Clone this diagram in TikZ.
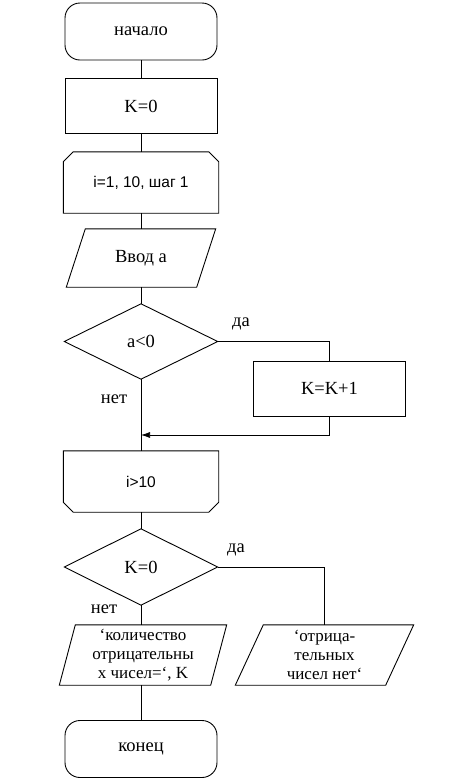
\documentclass[tikz,border=0pt]{standalone}
\usepackage{fontspec}
\setmainfont{Liberation Serif}
\newfontfamily\arialf{Liberation Sans}
\usetikzlibrary{arrows.meta,calc}
\begin{document}
\begin{tikzpicture}[x=1pt,y=-1pt,
  lw/.style={line width=0.9pt},
  conn/.style={line width=0.7pt},
  tm/.style={font=\fontsize{18.5}{20}\selectfont},
  tms/.style={font=\fontsize{17}{19}\selectfont},
  ar/.style={font=\arialf\fontsize{15.5}{18}\selectfont},
  term/.style={draw,lw,rounded corners=15pt,minimum width=152pt,minimum height=57pt,inner sep=0pt,tm},
  proc/.style={draw,lw,minimum width=152pt,minimum height=55pt,inner sep=0pt,tm},
  ghost/.style={inner sep=0pt,align=center},
  lab/.style={tm,inner sep=1pt}
]
\useasboundingbox (0,0) rectangle (451,780);

\node[term] (start) at (141,31.5) {начало};
\node[proc] (k0) at (141,106) {K=0};

\node[ghost,ar,minimum width=155pt,minimum height=61pt] (loop) at (141,182.5) {i=1, 10, шаг 1};
\draw[lw] ([xshift=10pt]loop.north west) -- ([xshift=-10pt]loop.north east) -- ([yshift=-10pt]loop.north east) -- (loop.south east) -- (loop.south west) -- ([yshift=-10pt]loop.north west) -- cycle;

\node[ghost,tm,minimum width=130pt,minimum height=58pt] (inp) at (141,258) {Ввод а};
\draw[lw] ([xshift=9.5pt]inp.north west) -- ([xshift=9.5pt]inp.north east) -- ([xshift=-9.5pt]inp.south east) -- ([xshift=-9.5pt]inp.south west) -- cycle;

\node[ghost,tm,minimum width=153pt,minimum height=75pt] (d1) at (141,341.5) {a<0};
\draw[lw] (d1.north) -- (d1.east) -- (d1.south) -- (d1.west) -- cycle;

\node[proc] (inc) at (329.5,388.5) {K=K+1};
\coordinate (m) at (141,435);

\node[ghost,ar,minimum width=155pt,minimum height=61pt] (loopend) at (141,481.5) {i>10};
\draw[lw] (loopend.north west) -- (loopend.north east) -- ([yshift=10pt]loopend.south east) -- ([xshift=-10pt]loopend.south east) -- ([xshift=10pt]loopend.south west) -- ([yshift=10pt]loopend.south west) -- cycle;

\node[ghost,tm,minimum width=153pt,minimum height=76pt] (d2) at (141,567) {K=0};
\draw[lw] (d2.north) -- (d2.east) -- (d2.south) -- (d2.west) -- cycle;

\node[ghost,tms,minimum width=151pt,minimum height=60pt] (out1) at (143,655) {‘количество\\отрицательны\\х чисел=‘, K};
\draw[lw] ([xshift=8pt]out1.north west) -- ([xshift=8pt]out1.north east) -- ([xshift=-8pt]out1.south east) -- ([xshift=-8pt]out1.south west) -- cycle;

\node[ghost,tms,minimum width=150pt,minimum height=60pt] (out2) at (324.5,655) {‘отрица-\\тельных\\чисел нет‘};
\draw[lw] ([xshift=14pt]out2.north west) -- ([xshift=14pt]out2.north east) -- ([xshift=-14pt]out2.south east) -- ([xshift=-14pt]out2.south west) -- cycle;

\node[term] (end) at (141,749) {конец};

% connectors
\draw[conn] (start.south) -- (k0.north);
\draw[conn] (k0.south) -- (loop.north);
\draw[conn] (loop.south) -- (inp.north);
\draw[conn] (inp.south) -- (d1.north);
\draw[conn] (d1.east) -| (inc.north);
\draw[conn,-{Latex[length=9pt,width=6pt]}] (inc.south) |- (m);
\draw[conn] (d1.south) -- (loopend.north);
\draw[conn] (loopend.south) -- (d2.north);
\draw[conn] (d2.east) -| (out2.north);
\draw[conn] (d2.south) -- (d2.south |- out1.north);
\draw[conn] (out1.south -| end.north) -- (end.north);

% labels
\node[lab] (yes1) at (241,324) {да};
\node[lab] (no1) at (114,399) {нет};
\node[lab] (yes2) at (236,550) {да};
\node[lab] (no2) at (104,609) {нет};
\end{tikzpicture}
\end{document}
